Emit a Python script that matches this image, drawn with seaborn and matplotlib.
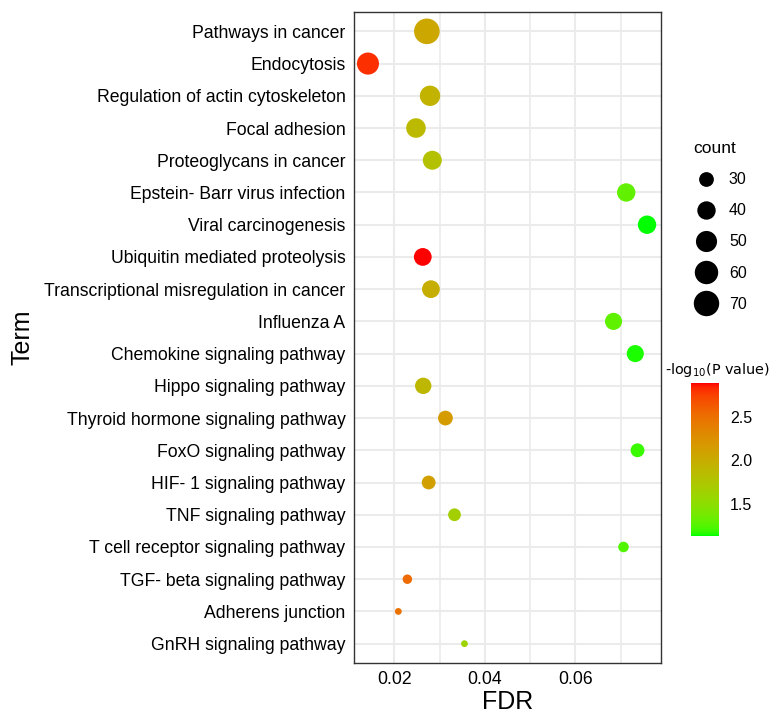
import numpy as np
import pandas as pd
import matplotlib
matplotlib.use("Agg")
import matplotlib.pyplot as plt
from matplotlib.colors import ListedColormap, Normalize
from matplotlib.cm import ScalarMappable
from matplotlib.lines import Line2D
import seaborn as sns

# ---------------- data ----------------
terms = ["Pathways in cancer", "Endocytosis", "Regulation of actin cytoskeleton",
         "Focal adhesion", "Proteoglycans in cancer", "Epstein- Barr virus infection",
         "Viral carcinogenesis", "Ubiquitin mediated proteolysis",
         "Transcriptional misregulation in cancer", "Influenza A",
         "Chemokine signaling pathway", "Hippo signaling pathway",
         "Thyroid hormone signaling pathway", "FoxO signaling pathway",
         "HIF- 1 signaling pathway", "TNF signaling pathway",
         "T cell receptor signaling pathway", "TGF- beta signaling pathway",
         "Adherens junction", "GnRH signaling pathway"]
fdr = [0.0272, 0.0142, 0.0279, 0.0248, 0.0284, 0.0712, 0.0758, 0.0263, 0.0281, 0.0684,
       0.0732, 0.0264, 0.0313, 0.0737, 0.0276, 0.0333, 0.0706, 0.0229, 0.0209, 0.0355]
count = [71, 54, 47, 44, 42, 40, 40, 38, 38, 36, 36, 34, 30, 28, 28, 26, 23, 22, 21, 21]
neglog_p = [2.05, 2.80, 1.94, 1.87, 1.80, 1.30, 1.14, 2.88, 1.98, 1.29,
            1.16, 1.90, 2.15, 1.20, 2.11, 1.66, 1.25, 2.52, 2.48, 1.61]
size_breaks = [30, 40, 50, 60, 70]
cbar_ticks = [1.5, 2.0, 2.5]
x_ticks = [0.02, 0.04, 0.06]
x_minor = [0.03, 0.05, 0.07]

df = pd.DataFrame({"Term": terms, "FDR": fdr, "count": count, "logp": neglog_p})

# ---------------- helpers ----------------
DPI = 100
PX2PT = 72.0 / DPI


def srgb_to_lab(rgb):
    c = np.asarray(rgb, float)
    lin = np.where(c <= 0.04045, c / 12.92, ((c + 0.055) / 1.055) ** 2.4)
    M = np.array([[0.4124, 0.3576, 0.1805], [0.2126, 0.7152, 0.0722], [0.0193, 0.1192, 0.9505]])
    xyz = M @ lin / np.array([0.95047, 1.0, 1.08883])
    f = np.where(xyz > 0.008856, np.cbrt(xyz), 7.787 * xyz + 16 / 116)
    return np.array([116 * f[1] - 16, 500 * (f[0] - f[1]), 200 * (f[1] - f[2])])


def lab_to_srgb(lab):
    L, a, b = lab
    fy = (L + 16) / 116
    fx = fy + a / 500
    fz = fy - b / 200
    f = np.array([fx, fy, fz])
    xyz = np.where(f ** 3 > 0.008856, f ** 3, (f - 16 / 116) / 7.787) * np.array([0.95047, 1.0, 1.08883])
    Mi = np.array([[3.2406, -1.5372, -0.4986], [-0.9689, 1.8758, 0.0415], [0.0557, -0.2040, 1.0570]])
    lin = np.clip(Mi @ xyz, 0, 1)
    c = np.where(lin <= 0.0031308, 12.92 * lin, 1.055 * lin ** (1 / 2.4) - 0.055)
    return np.clip(c, 0, 1)


lab_lo = srgb_to_lab([0, 1, 0])
lab_hi = srgb_to_lab([1, 0, 0])
cmap = ListedColormap([lab_to_srgb(lab_lo + t * (lab_hi - lab_lo)) for t in np.linspace(0, 1, 256)])
norm = Normalize(min(neglog_p), max(neglog_p))

cmin, cmax = min(count), max(count)


def diam_px(c):
    return 6.8 + 18.8 * np.sqrt((c - cmin) / (cmax - cmin))


size_map = {c: (diam_px(c) * PX2PT) ** 2 for c in sorted(set(count))}

# ---------------- figure ----------------
sns.set_style("white")
plt.rcParams["font.family"] = ["Liberation Sans", "DejaVu Sans"]
plt.rcParams["text.color"] = "black"
plt.rcParams["axes.labelcolor"] = "black"
plt.rcParams["legend.labelcolor"] = "black"

W, H = 772, 715
fig = plt.figure(figsize=(W / DPI, H / DPI), dpi=DPI)
L0, R0, T0, B0 = 354, 661, 12, 663
ax = fig.add_axes([L0 / W, 1 - B0 / H, (R0 - L0) / W, (B0 - T0) / H])

sns.scatterplot(data=df, x="FDR", y="Term", hue="logp", size="count",
                palette=cmap, hue_norm=norm, sizes=size_map, linewidth=0,
                legend=False, ax=ax, zorder=3)

xr = max(fdr) - min(fdr)
ax.set_xlim(min(fdr) - 0.05 * xr, max(fdr) + 0.05 * xr)
ax.set_ylim(len(terms) - 0.4, -0.6)

ax.set_xticks(x_ticks)
ax.set_xticklabels([f"{v:.2f}" for v in x_ticks])
ax.set_xticks(x_minor, minor=True)
ax.set_yticks(range(len(terms)))
ax.set_yticklabels(terms)

ax.grid(which="major", axis="both", color="#EBEBEB", linewidth=1.5, zorder=0)
ax.grid(which="minor", axis="x", color="#EBEBEB", linewidth=1.2, zorder=0)
ax.set_axisbelow(True)
ax.tick_params(which="major", length=3.6, width=1.0, color="#333333",
               labelsize=12.7, labelcolor="black", pad=2.5)
ax.tick_params(which="minor", length=0)
for s in ax.spines.values():
    s.set_visible(True)
    s.set_color("#333333")
    s.set_linewidth(1.0)
ax.set_xlabel("")
ax.set_ylabel("")

fig.text((L0 + R0) / 2 / W, 1 - 714 / H, "FDR", ha="center", va="bottom", fontsize=18)
fig.text(23 / W, 1 - (T0 + B0) / 2 / H, "Term", ha="center", va="center",
         rotation=90, fontsize=18)

# ---------------- size legend ----------------
handles = [Line2D([], [], marker="o", linestyle="none", color="black",
                  markeredgewidth=0, markersize=diam_px(b) * PX2PT) for b in size_breaks]
leg = fig.legend(handles, [str(b) for b in size_breaks], title="count",
                 loc="upper left", bbox_to_anchor=(693 / W, 1 - 141 / H),
                 frameon=False, fontsize=11.5, title_fontsize=12.5,
                 borderpad=0, borderaxespad=0, handlelength=1.63,
                 handletextpad=0.62, labelspacing=1.01, alignment="left")
leg.get_title().set_color("black")

# ---------------- colour bar ----------------
cb_top, cb_bot, cb_l, cb_w = 383.3, 535.7, 691, 28
cax = fig.add_axes([cb_l / W, 1 - cb_bot / H, cb_w / W, (cb_bot - cb_top) / H])
cb = fig.colorbar(ScalarMappable(norm=norm, cmap=cmap), cax=cax, ticks=cbar_ticks)
cb.outline.set_visible(False)
cax.tick_params(direction="in", color="white", length=4, width=0.8,
                left=True, right=True, labelleft=False, labelright=True,
                labelsize=11.5, labelcolor="black", pad=8)
cax.set_yticklabels([f"{v:.1f}" for v in cbar_ticks])
fig.text(665 / W, 1 - 374 / H, r"-log$_{10}$(P value)", ha="left", va="baseline",
         fontsize=10.4, family="DejaVu Sans")

fig.savefig("out.png", dpi=DPI)
